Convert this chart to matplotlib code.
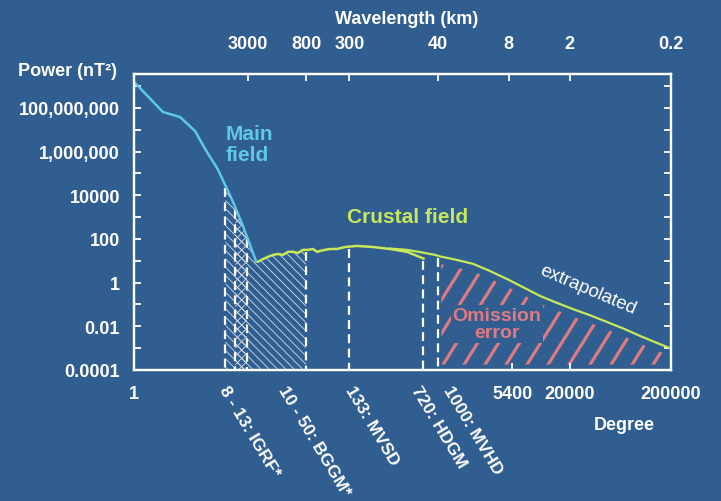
import numpy as np
import matplotlib
matplotlib.use("Agg")
import matplotlib.pyplot as plt
from matplotlib.patches import Polygon
from matplotlib.ticker import NullLocator

BG = '#315e90'
CYAN = '#5ec8e8'
GREEN = '#c8e85a'
PINK = '#e07a82'
HATCH_C = '#d4deea'

plt.rcParams['font.family'] = ['Liberation Sans', 'DejaVu Sans']
plt.rcParams['font.weight'] = 'bold'
plt.rcParams['hatch.linewidth'] = 0.6
plt.rcParams['hatch.color'] = HATCH_C

# ---------------- data ----------------
main_deg = [1, 1.93, 2.85, 4.0, 5.25, 6.7, 8.3, 9.5, 11.9, 16.0]
main_log = [9.19, 7.81, 7.58, 6.94, 5.98, 5.20, 4.28, 3.69, 2.59, 0.99]

crust_deg = [16.0, 16.7, 18.8, 21.0, 23.6, 26.4, 29.6, 33.2, 37.1, 41.6, 46.6,
             52.2, 58.5, 64.1, 68.6, 76.8, 86.1, 101, 121, 159, 229, 336, 495,
             697, 720]
crust_log = [0.99, 0.95, 1.08, 1.18, 1.27, 1.31, 1.27, 1.41, 1.41, 1.36, 1.50,
             1.50, 1.54, 1.41, 1.45, 1.50, 1.54, 1.54, 1.63, 1.68, 1.63, 1.54,
             1.41, 1.13, 1.10]

extra_deg = [336, 495, 700, 935, 1050, 1500, 2220, 3200, 4790, 7000, 10200,
             15000, 21500, 32000, 46700, 70000, 98900, 140000, 200000]
extra_log = [1.56, 1.50, 1.38, 1.27, 1.20, 1.05, 0.86, 0.55, 0.17, -0.22, -0.61,
             -0.93, -1.21, -1.50, -1.80, -2.13, -2.44, -2.73, -3.02]

model_deg = [8, 10, 13, 50, 133, 720, 1000]
model_labels = ['8 - 13: IGRF*', '10 - 50: BGGM*', '133: MVSD', '720: HDGM',
                '1000: MVHD']
igrf_range = [8, 13]
bggm_range = [10, 50]
omission_start = 1000

deg_ticks = [1, 5400, 20000, 200000]
deg_labels = ['1', '5400', '20000', '200000']
wl_ticks = [3000, 800, 300, 40, 8, 2, 0.2]
wl_labels = ['3000', '800', '300', '40', '8', '2', '0.2']
earth_circ_km = 40000
power_ticks = [1e8, 1e6, 1e4, 1e2, 1, 1e-2, 1e-4]
power_labels = ['100,000,000', '1,000,000', '10000', '100', '1', '0.01', '0.0001']


def logi(x, xs, ys):
    return 10 ** np.interp(np.log10(x), np.log10(xs), ys)


def curve_at(d):
    d = np.asarray(d, float)
    return np.where(d <= 16, logi(d, main_deg, main_log),
                    np.where(d <= 720, logi(d, crust_deg, crust_log),
                             logi(d, extra_deg, extra_log)))


# ---------------- figure ----------------
W, H = 721, 502
fig = plt.figure(figsize=(W / 100, H / 100), dpi=100, facecolor=BG)
ax = fig.add_axes([134 / W, 1 - 371 / H, 537 / W, 296 / H])
ax.set_facecolor(BG)
ax.set_xscale('log')
ax.set_yscale('log')
XMIN, XMAX = 1, 200000
YMIN, YMAX = 1e-4, 10 ** 9.55
ax.set_xlim(XMIN, XMAX)
ax.set_ylim(YMIN, YMAX)

for s in ax.spines.values():
    s.set_color('white')
    s.set_linewidth(1.6)

# hatched model regions
g = np.geomspace(igrf_range[0], igrf_range[1], 120)
ax.fill_between(g, YMIN, curve_at(g), facecolor='none', edgecolor=HATCH_C,
                hatch='\\\\\\\\', linewidth=0, zorder=1)
g = np.geomspace(bggm_range[0], bggm_range[1], 200)
ax.fill_between(g, YMIN, curve_at(g), facecolor='none', edgecolor=HATCH_C,
                hatch='\\\\\\\\', linewidth=0, zorder=1)
g = np.geomspace(bggm_range[0], igrf_range[1], 60)
ax.fill_between(g, YMIN, curve_at(g), facecolor='none', edgecolor=HATCH_C,
                hatch='////', linewidth=0, zorder=1)

# omission error region
gx = np.geomspace(omission_start * 1.08, XMAX, 300)
top = curve_at(gx) * 10 ** -0.35
bot = YMIN * 10 ** 0.25
verts = [(gx[0], bot)] + list(zip(gx, top)) + [(gx[-1], bot)]
poly = Polygon(verts, closed=True, facecolor='none', edgecolor='none',
               transform=ax.transData)
ax.add_patch(poly)
dxf = (296 / np.tan(np.radians(58))) / 537
for x0 in np.arange(0.10, 1.0, 21 / 537):
    ln, = ax.plot([x0, x0 + dxf], [0, 1], transform=ax.transAxes, color=PINK,
                  lw=2.3, solid_capstyle='butt', zorder=1.5)
    ln.set_clip_path(poly)

# dashed model lines
for d in model_deg:
    ax.plot([d, d], [float(curve_at(d)) * 0.8, YMIN], color='white', lw=1.6,
            dashes=(4, 2.4), zorder=2)

# curves
ax.plot(extra_deg, 10 ** np.array(extra_log), color=GREEN, lw=1.6, zorder=3)
ax.plot(crust_deg, 10 ** np.array(crust_log), color=GREEN, lw=1.8, zorder=3)
ax.plot(main_deg, 10 ** np.array(main_log), color=CYAN, lw=1.8, zorder=4)

# ticks
ax.set_xticks(deg_ticks)
ax.set_xticklabels(deg_labels)
ax.xaxis.set_minor_locator(NullLocator())
ax.tick_params(axis='x', which='both', direction='in', length=5, width=1.3,
               colors='white', labelsize=13, pad=11, top=False)

ydec = 10.0 ** np.arange(-4, 10)
ylabs = []
for t in ydec:
    hit = [lab for v, lab in zip(power_ticks, power_labels) if np.isclose(v, t)]
    ylabs.append(hit[0] if hit else '')
ax.set_yticks(ydec)
ax.set_yticklabels(ylabs)
ax.yaxis.set_minor_locator(NullLocator())
ax.tick_params(axis='y', which='both', direction='in', length=5, width=1.3,
               colors='white', labelsize=13, pad=10, left=True, right=True)

axt = ax.twiny()
axt.set_xscale('log')
axt.set_xlim(XMIN, XMAX)
axt.set_xticks(earth_circ_km / np.array(wl_ticks))
axt.set_xticklabels(wl_labels)
axt.xaxis.set_minor_locator(NullLocator())
axt.tick_params(axis='x', which='both', direction='in', length=5, width=1.3,
                colors='white', labelsize=13, pad=16)
for s in axt.spines.values():
    s.set_color('white')
    s.set_linewidth(1.6)

# texts
fig.text(407 / W, 1 - 20 / H, 'Wavelength (km)', color='white', fontsize=13,
         ha='center', va='center')
fig.text(67 / W, 1 - 72 / H, 'Power (nT²)', color='white', fontsize=13,
         ha='center', va='center')
fig.text(624 / W, 1 - 425 / H, 'Degree', color='white', fontsize=13,
         ha='center', va='center')

label_x = [0.178, 0.288, 0.413, 0.535, 0.595]
for lx, lab in zip(label_x, model_labels):
    ax.text(lx, -0.042, lab, transform=ax.transAxes, rotation=-59,
            rotation_mode='anchor', ha='left', va='top', color='white',
            fontsize=12.5)

ax.text(0.171, 0.764, 'Main\nfield', transform=ax.transAxes, color=CYAN,
        fontsize=15, ha='left', va='center', linespacing=1.15)
ax.text(0.510, 0.517, 'Crustal field', transform=ax.transAxes, color=GREEN,
        fontsize=15, ha='center', va='center')
ax.text(0.845, 0.274, 'extrapolated', transform=ax.transAxes, color='white',
        fontsize=13.5, fontweight='normal', rotation=-23, ha='center',
        va='center', rotation_mode='anchor')
ax.text(0.676, 0.155, 'Omission\nerror', transform=ax.transAxes, color=PINK,
        fontsize=14, ha='center', va='center', linespacing=1.05, zorder=5,
        bbox=dict(facecolor=BG, edgecolor='none', pad=1))

fig.savefig('out.png', dpi=100, facecolor=BG)
